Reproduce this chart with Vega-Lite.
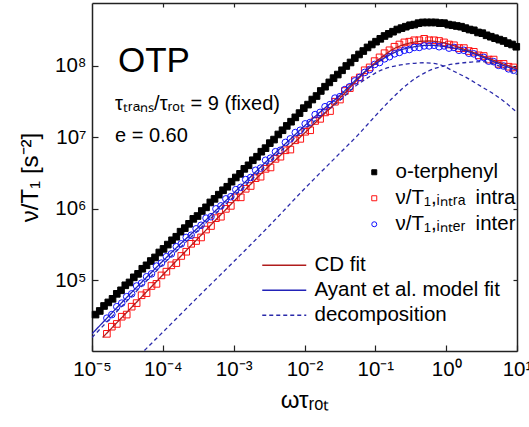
{
  "$schema": "https://vega.github.io/schema/vega-lite/v6.json",
  "width": 425,
  "height": 348,
  "autosize": {"type": "none"},
  "padding": {"left": 92, "top": 3, "right": 12, "bottom": 76},
  "background": "#ffffff",
  "config": {
    "view": {"stroke": null},
    "font": "Liberation Sans",
    "axis": {
      "grid": false, "domainColor": "#222222", "domainWidth": 1.5,
      "tickColor": "#222222", "tickWidth": 1.2,
      "labelFont": "Liberation Sans", "labelFontSize": 20.5, "labelColor": "#000000",
      "titleFont": "Liberation Sans", "titleFontSize": 24, "titleFontWeight": "normal", "titleColor": "#000000",
      "labelOverlap": false, "labelFlush": false
    },
    "legend": {"labelFont": "Liberation Sans", "labelFontSize": 20.5, "labelColor": "#000000", "padding": 0, "labelLimit": 400}
  },
  "datasets": {
    "measured": [
      {"series":"o-terphenyl","omega_tau":1.122e-5,"rate":3.31e4},{"series":"o-terphenyl","omega_tau":1.288e-5,"rate":3.72e4},{"series":"o-terphenyl","omega_tau":1.479e-5,"rate":4.37e4},{"series":"o-terphenyl","omega_tau":1.698e-5,"rate":4.90e4},{"series":"o-terphenyl","omega_tau":1.950e-5,"rate":5.50e4},{"series":"o-terphenyl","omega_tau":2.239e-5,"rate":6.46e4},{"series":"o-terphenyl","omega_tau":2.570e-5,"rate":7.24e4},{"series":"o-terphenyl","omega_tau":2.951e-5,"rate":8.51e4},{"series":"o-terphenyl","omega_tau":3.388e-5,"rate":9.33e4},{"series":"o-terphenyl","omega_tau":3.890e-5,"rate":1.10e5},
      {"series":"o-terphenyl","omega_tau":4.467e-5,"rate":1.23e5},{"series":"o-terphenyl","omega_tau":5.129e-5,"rate":1.45e5},{"series":"o-terphenyl","omega_tau":5.888e-5,"rate":1.62e5},{"series":"o-terphenyl","omega_tau":6.761e-5,"rate":1.86e5},{"series":"o-terphenyl","omega_tau":7.762e-5,"rate":2.09e5},{"series":"o-terphenyl","omega_tau":8.913e-5,"rate":2.45e5},{"series":"o-terphenyl","omega_tau":1.023e-4,"rate":2.75e5},{"series":"o-terphenyl","omega_tau":1.175e-4,"rate":3.16e5},{"series":"o-terphenyl","omega_tau":1.349e-4,"rate":3.63e5},{"series":"o-terphenyl","omega_tau":1.549e-4,"rate":4.07e5},
      {"series":"o-terphenyl","omega_tau":1.778e-4,"rate":4.79e5},{"series":"o-terphenyl","omega_tau":2.042e-4,"rate":5.37e5},{"series":"o-terphenyl","omega_tau":2.344e-4,"rate":6.17e5},{"series":"o-terphenyl","omega_tau":2.692e-4,"rate":7.24e5},{"series":"o-terphenyl","omega_tau":3.090e-4,"rate":7.94e5},{"series":"o-terphenyl","omega_tau":3.548e-4,"rate":9.33e5},{"series":"o-terphenyl","omega_tau":4.074e-4,"rate":1.05e6},{"series":"o-terphenyl","omega_tau":4.677e-4,"rate":1.23e6},{"series":"o-terphenyl","omega_tau":5.370e-4,"rate":1.38e6},{"series":"o-terphenyl","omega_tau":6.166e-4,"rate":1.58e6},
      {"series":"o-terphenyl","omega_tau":7.079e-4,"rate":1.82e6},{"series":"o-terphenyl","omega_tau":8.128e-4,"rate":2.04e6},{"series":"o-terphenyl","omega_tau":9.333e-4,"rate":2.40e6},{"series":"o-terphenyl","omega_tau":1.072e-3,"rate":2.75e6},{"series":"o-terphenyl","omega_tau":1.230e-3,"rate":3.09e6},{"series":"o-terphenyl","omega_tau":1.413e-3,"rate":3.63e6},{"series":"o-terphenyl","omega_tau":1.622e-3,"rate":4.07e6},{"series":"o-terphenyl","omega_tau":1.862e-3,"rate":4.79e6},{"series":"o-terphenyl","omega_tau":2.138e-3,"rate":5.37e6},{"series":"o-terphenyl","omega_tau":2.455e-3,"rate":6.31e6},
      {"series":"o-terphenyl","omega_tau":2.818e-3,"rate":7.08e6},{"series":"o-terphenyl","omega_tau":3.236e-3,"rate":8.32e6},{"series":"o-terphenyl","omega_tau":3.715e-3,"rate":9.33e6},{"series":"o-terphenyl","omega_tau":4.266e-3,"rate":1.10e7},{"series":"o-terphenyl","omega_tau":4.898e-3,"rate":1.26e7},{"series":"o-terphenyl","omega_tau":5.623e-3,"rate":1.45e7},{"series":"o-terphenyl","omega_tau":6.457e-3,"rate":1.66e7},{"series":"o-terphenyl","omega_tau":7.413e-3,"rate":1.91e7},{"series":"o-terphenyl","omega_tau":8.511e-3,"rate":2.19e7},{"series":"o-terphenyl","omega_tau":9.772e-3,"rate":2.57e7},
      {"series":"o-terphenyl","omega_tau":1.122e-2,"rate":2.88e7},{"series":"o-terphenyl","omega_tau":1.288e-2,"rate":3.39e7},{"series":"o-terphenyl","omega_tau":1.479e-2,"rate":3.80e7},{"series":"o-terphenyl","omega_tau":1.698e-2,"rate":4.47e7},{"series":"o-terphenyl","omega_tau":1.950e-2,"rate":5.13e7},{"series":"o-terphenyl","omega_tau":2.239e-2,"rate":5.89e7},{"series":"o-terphenyl","omega_tau":2.570e-2,"rate":6.76e7},{"series":"o-terphenyl","omega_tau":2.951e-2,"rate":7.59e7},{"series":"o-terphenyl","omega_tau":3.388e-2,"rate":8.71e7},{"series":"o-terphenyl","omega_tau":3.890e-2,"rate":1.00e8},
      {"series":"o-terphenyl","omega_tau":4.467e-2,"rate":1.12e8},{"series":"o-terphenyl","omega_tau":5.129e-2,"rate":1.29e8},{"series":"o-terphenyl","omega_tau":5.888e-2,"rate":1.45e8},{"series":"o-terphenyl","omega_tau":6.761e-2,"rate":1.62e8},{"series":"o-terphenyl","omega_tau":7.762e-2,"rate":1.82e8},{"series":"o-terphenyl","omega_tau":8.913e-2,"rate":2.00e8},{"series":"o-terphenyl","omega_tau":0.1023,"rate":2.19e8},{"series":"o-terphenyl","omega_tau":0.1175,"rate":2.40e8},{"series":"o-terphenyl","omega_tau":0.1349,"rate":2.63e8},{"series":"o-terphenyl","omega_tau":0.1549,"rate":2.82e8},
      {"series":"o-terphenyl","omega_tau":0.1778,"rate":3.02e8},{"series":"o-terphenyl","omega_tau":0.2042,"rate":3.24e8},{"series":"o-terphenyl","omega_tau":0.2344,"rate":3.39e8},{"series":"o-terphenyl","omega_tau":0.2692,"rate":3.55e8},{"series":"o-terphenyl","omega_tau":0.3090,"rate":3.72e8},{"series":"o-terphenyl","omega_tau":0.3548,"rate":3.80e8},{"series":"o-terphenyl","omega_tau":0.4074,"rate":3.98e8},{"series":"o-terphenyl","omega_tau":0.4677,"rate":4.07e8},{"series":"o-terphenyl","omega_tau":0.5370,"rate":4.07e8},{"series":"o-terphenyl","omega_tau":0.6166,"rate":4.07e8},
      {"series":"o-terphenyl","omega_tau":0.7079,"rate":4.07e8},{"series":"o-terphenyl","omega_tau":0.8128,"rate":3.98e8},{"series":"o-terphenyl","omega_tau":0.9333,"rate":3.98e8},{"series":"o-terphenyl","omega_tau":1.072,"rate":3.80e8},{"series":"o-terphenyl","omega_tau":1.230,"rate":3.72e8},{"series":"o-terphenyl","omega_tau":1.413,"rate":3.63e8},{"series":"o-terphenyl","omega_tau":1.622,"rate":3.55e8},{"series":"o-terphenyl","omega_tau":1.862,"rate":3.39e8},{"series":"o-terphenyl","omega_tau":2.138,"rate":3.24e8},{"series":"o-terphenyl","omega_tau":2.455,"rate":3.16e8},
      {"series":"o-terphenyl","omega_tau":2.818,"rate":2.95e8},{"series":"o-terphenyl","omega_tau":3.236,"rate":2.88e8},{"series":"o-terphenyl","omega_tau":3.715,"rate":2.69e8},{"series":"o-terphenyl","omega_tau":4.266,"rate":2.57e8},{"series":"o-terphenyl","omega_tau":4.898,"rate":2.45e8},{"series":"o-terphenyl","omega_tau":5.623,"rate":2.34e8},{"series":"o-terphenyl","omega_tau":6.457,"rate":2.24e8},{"series":"o-terphenyl","omega_tau":7.413,"rate":2.09e8},{"series":"o-terphenyl","omega_tau":8.511,"rate":2.00e8},{"series":"o-terphenyl","omega_tau":9.772,"rate":1.86e8},

      {"series":"intra","omega_tau":1.622e-5,"rate":1.78e4},{"series":"intra","omega_tau":1.905e-5,"rate":2.24e4},{"series":"intra","omega_tau":2.239e-5,"rate":2.45e4},{"series":"intra","omega_tau":2.630e-5,"rate":3.09e4},{"series":"intra","omega_tau":3.090e-5,"rate":3.31e4},{"series":"intra","omega_tau":3.631e-5,"rate":4.27e4},{"series":"intra","omega_tau":4.266e-5,"rate":4.79e4},{"series":"intra","omega_tau":5.012e-5,"rate":6.17e4},{"series":"intra","omega_tau":5.888e-5,"rate":6.61e4},{"series":"intra","omega_tau":6.918e-5,"rate":8.32e4},
      {"series":"intra","omega_tau":8.128e-5,"rate":8.91e4},{"series":"intra","omega_tau":9.550e-5,"rate":1.17e5},{"series":"intra","omega_tau":1.122e-4,"rate":1.32e5},{"series":"intra","omega_tau":1.318e-4,"rate":1.62e5},{"series":"intra","omega_tau":1.549e-4,"rate":1.74e5},{"series":"intra","omega_tau":1.820e-4,"rate":2.19e5},{"series":"intra","omega_tau":2.138e-4,"rate":2.51e5},{"series":"intra","omega_tau":2.512e-4,"rate":3.24e5},{"series":"intra","omega_tau":2.951e-4,"rate":3.55e5},{"series":"intra","omega_tau":3.467e-4,"rate":3.98e5},
      {"series":"intra","omega_tau":4.074e-4,"rate":5.13e5},{"series":"intra","omega_tau":4.786e-4,"rate":5.75e5},{"series":"intra","omega_tau":5.623e-4,"rate":7.41e5},{"series":"intra","omega_tau":6.607e-4,"rate":7.76e5},{"series":"intra","omega_tau":7.762e-4,"rate":1.00e6},{"series":"intra","omega_tau":9.120e-4,"rate":1.10e6},{"series":"intra","omega_tau":1.072e-3,"rate":1.45e6},{"series":"intra","omega_tau":1.259e-3,"rate":1.45e6},{"series":"intra","omega_tau":1.479e-3,"rate":1.91e6},{"series":"intra","omega_tau":1.738e-3,"rate":2.09e6},
      {"series":"intra","omega_tau":2.042e-3,"rate":2.69e6},{"series":"intra","omega_tau":2.399e-3,"rate":2.82e6},{"series":"intra","omega_tau":2.818e-3,"rate":3.63e6},{"series":"intra","omega_tau":3.311e-3,"rate":3.80e6},{"series":"intra","omega_tau":3.890e-3,"rate":5.01e6},{"series":"intra","omega_tau":4.571e-3,"rate":5.37e6},{"series":"intra","omega_tau":5.370e-3,"rate":6.61e6},{"series":"intra","omega_tau":6.310e-3,"rate":6.76e6},{"series":"intra","omega_tau":7.413e-3,"rate":9.12e6},{"series":"intra","omega_tau":8.710e-3,"rate":9.55e6},
      {"series":"intra","omega_tau":1.023e-2,"rate":1.20e7},{"series":"intra","omega_tau":1.202e-2,"rate":1.26e7},{"series":"intra","omega_tau":1.413e-2,"rate":1.70e7},{"series":"intra","omega_tau":1.660e-2,"rate":1.82e7},{"series":"intra","omega_tau":1.950e-2,"rate":2.24e7},{"series":"intra","omega_tau":2.291e-2,"rate":2.34e7},{"series":"intra","omega_tau":2.692e-2,"rate":3.16e7},{"series":"intra","omega_tau":3.162e-2,"rate":3.39e7},{"series":"intra","omega_tau":3.715e-2,"rate":4.47e7},{"series":"intra","omega_tau":4.365e-2,"rate":4.90e7},
      {"series":"intra","omega_tau":5.129e-2,"rate":6.31e7},{"series":"intra","omega_tau":6.026e-2,"rate":6.92e7},{"series":"intra","omega_tau":7.079e-2,"rate":8.71e7},{"series":"intra","omega_tau":8.318e-2,"rate":9.55e7},{"series":"intra","omega_tau":9.772e-2,"rate":1.17e8},{"series":"intra","omega_tau":0.1148,"rate":1.32e8},{"series":"intra","omega_tau":0.1349,"rate":1.51e8},{"series":"intra","omega_tau":0.1585,"rate":1.66e8},{"series":"intra","omega_tau":0.1862,"rate":1.86e8},{"series":"intra","omega_tau":0.2188,"rate":2.00e8},
      {"series":"intra","omega_tau":0.2570,"rate":2.14e8},{"series":"intra","omega_tau":0.3020,"rate":2.19e8},{"series":"intra","omega_tau":0.3548,"rate":2.29e8},{"series":"intra","omega_tau":0.4169,"rate":2.29e8},{"series":"intra","omega_tau":0.4898,"rate":2.40e8},{"series":"intra","omega_tau":0.5754,"rate":2.29e8},{"series":"intra","omega_tau":0.6761,"rate":2.29e8},{"series":"intra","omega_tau":0.7943,"rate":2.24e8},{"series":"intra","omega_tau":0.9333,"rate":2.14e8},{"series":"intra","omega_tau":1.096,"rate":2.00e8},
      {"series":"intra","omega_tau":1.288,"rate":1.95e8},{"series":"intra","omega_tau":1.514,"rate":1.78e8},{"series":"intra","omega_tau":1.778,"rate":1.78e8},{"series":"intra","omega_tau":2.089,"rate":1.62e8},{"series":"intra","omega_tau":2.455,"rate":1.58e8},{"series":"intra","omega_tau":2.884,"rate":1.41e8},{"series":"intra","omega_tau":3.388,"rate":1.38e8},{"series":"intra","omega_tau":3.981,"rate":1.23e8},{"series":"intra","omega_tau":4.677,"rate":1.23e8},{"series":"intra","omega_tau":5.495,"rate":1.07e8},
      {"series":"intra","omega_tau":6.457,"rate":1.07e8},{"series":"intra","omega_tau":7.586,"rate":9.77e7},{"series":"intra","omega_tau":8.913,"rate":9.55e7},

      {"series":"inter","omega_tau":1.622e-5,"rate":2.95e4},{"series":"inter","omega_tau":1.905e-5,"rate":3.31e4},{"series":"inter","omega_tau":2.239e-5,"rate":4.27e4},{"series":"inter","omega_tau":2.630e-5,"rate":4.79e4},{"series":"inter","omega_tau":3.090e-5,"rate":5.89e4},{"series":"inter","omega_tau":3.631e-5,"rate":6.46e4},{"series":"inter","omega_tau":4.266e-5,"rate":8.32e4},{"series":"inter","omega_tau":5.012e-5,"rate":9.12e4},{"series":"inter","omega_tau":5.888e-5,"rate":1.12e5},{"series":"inter","omega_tau":6.918e-5,"rate":1.23e5},
      {"series":"inter","omega_tau":8.128e-5,"rate":1.58e5},{"series":"inter","omega_tau":9.550e-5,"rate":1.74e5},{"series":"inter","omega_tau":1.122e-4,"rate":2.14e5},{"series":"inter","omega_tau":1.318e-4,"rate":2.34e5},{"series":"inter","omega_tau":1.549e-4,"rate":2.95e5},{"series":"inter","omega_tau":1.820e-4,"rate":3.24e5},{"series":"inter","omega_tau":2.138e-4,"rate":3.98e5},{"series":"inter","omega_tau":2.512e-4,"rate":4.27e5},{"series":"inter","omega_tau":2.951e-4,"rate":5.25e5},{"series":"inter","omega_tau":3.467e-4,"rate":5.89e5},
      {"series":"inter","omega_tau":4.074e-4,"rate":7.41e5},{"series":"inter","omega_tau":4.786e-4,"rate":7.76e5},{"series":"inter","omega_tau":5.623e-4,"rate":1.00e6},{"series":"inter","omega_tau":6.607e-4,"rate":1.10e6},{"series":"inter","omega_tau":7.762e-4,"rate":1.38e6},{"series":"inter","omega_tau":9.120e-4,"rate":1.48e6},{"series":"inter","omega_tau":1.072e-3,"rate":1.86e6},{"series":"inter","omega_tau":1.259e-3,"rate":2.00e6},{"series":"inter","omega_tau":1.479e-3,"rate":2.57e6},{"series":"inter","omega_tau":1.738e-3,"rate":2.75e6},
      {"series":"inter","omega_tau":2.042e-3,"rate":3.47e6},{"series":"inter","omega_tau":2.399e-3,"rate":3.72e6},{"series":"inter","omega_tau":2.818e-3,"rate":4.79e6},{"series":"inter","omega_tau":3.311e-3,"rate":5.13e6},{"series":"inter","omega_tau":3.890e-3,"rate":6.31e6},{"series":"inter","omega_tau":4.571e-3,"rate":6.61e6},{"series":"inter","omega_tau":5.370e-3,"rate":8.51e6},{"series":"inter","omega_tau":6.310e-3,"rate":9.55e6},{"series":"inter","omega_tau":7.413e-3,"rate":1.17e7},{"series":"inter","omega_tau":8.710e-3,"rate":1.26e7},
      {"series":"inter","omega_tau":1.023e-2,"rate":1.55e7},{"series":"inter","omega_tau":1.202e-2,"rate":1.62e7},{"series":"inter","omega_tau":1.413e-2,"rate":2.09e7},{"series":"inter","omega_tau":1.660e-2,"rate":2.24e7},{"series":"inter","omega_tau":1.950e-2,"rate":2.69e7},{"series":"inter","omega_tau":2.291e-2,"rate":2.88e7},{"series":"inter","omega_tau":2.692e-2,"rate":3.55e7},{"series":"inter","omega_tau":3.162e-2,"rate":3.72e7},{"series":"inter","omega_tau":3.715e-2,"rate":4.68e7},{"series":"inter","omega_tau":4.365e-2,"rate":5.13e7},
      {"series":"inter","omega_tau":5.129e-2,"rate":6.17e7},{"series":"inter","omega_tau":6.026e-2,"rate":6.92e7},{"series":"inter","omega_tau":7.079e-2,"rate":8.13e7},{"series":"inter","omega_tau":8.318e-2,"rate":8.91e7},{"series":"inter","omega_tau":9.772e-2,"rate":1.05e8},{"series":"inter","omega_tau":0.1148,"rate":1.12e8},{"series":"inter","omega_tau":0.1349,"rate":1.26e8},{"series":"inter","omega_tau":0.1585,"rate":1.35e8},{"series":"inter","omega_tau":0.1862,"rate":1.48e8},{"series":"inter","omega_tau":0.2188,"rate":1.55e8},
      {"series":"inter","omega_tau":0.2570,"rate":1.66e8},{"series":"inter","omega_tau":0.3020,"rate":1.70e8},{"series":"inter","omega_tau":0.3548,"rate":1.82e8},{"series":"inter","omega_tau":0.4169,"rate":1.82e8},{"series":"inter","omega_tau":0.4898,"rate":1.91e8},{"series":"inter","omega_tau":0.5754,"rate":1.91e8},{"series":"inter","omega_tau":0.6761,"rate":1.95e8},{"series":"inter","omega_tau":0.7943,"rate":1.86e8},{"series":"inter","omega_tau":0.9333,"rate":1.91e8},{"series":"inter","omega_tau":1.096,"rate":1.78e8},
      {"series":"inter","omega_tau":1.288,"rate":1.82e8},{"series":"inter","omega_tau":1.514,"rate":1.66e8},{"series":"inter","omega_tau":1.778,"rate":1.66e8},{"series":"inter","omega_tau":2.089,"rate":1.51e8},{"series":"inter","omega_tau":2.455,"rate":1.48e8},{"series":"inter","omega_tau":2.884,"rate":1.32e8},{"series":"inter","omega_tau":3.388,"rate":1.32e8},{"series":"inter","omega_tau":3.981,"rate":1.17e8},{"series":"inter","omega_tau":4.677,"rate":1.15e8},{"series":"inter","omega_tau":5.495,"rate":1.02e8},
      {"series":"inter","omega_tau":6.457,"rate":1.00e8},{"series":"inter","omega_tau":7.586,"rate":9.12e7},{"series":"inter","omega_tau":8.913,"rate":8.71e7}
    ],
    "fits": [
      {"curve":"decomposition","part":"A","omega_tau":1e-5,"rate":1.58e4},{"curve":"decomposition","part":"A","omega_tau":1e-4,"rate":1.66e5},{"curve":"decomposition","part":"A","omega_tau":1e-3,"rate":1.48e6},{"curve":"decomposition","part":"A","omega_tau":1e-2,"rate":1.29e7},{"curve":"decomposition","part":"A","omega_tau":3.162e-2,"rate":3.31e7},{"curve":"decomposition","part":"A","omega_tau":5.623e-2,"rate":5.50e7},{"curve":"decomposition","part":"A","omega_tau":7.943e-2,"rate":6.92e7},{"curve":"decomposition","part":"A","omega_tau":0.1259,"rate":8.91e7},{"curve":"decomposition","part":"A","omega_tau":0.1995,"rate":1.01e8},{"curve":"decomposition","part":"A","omega_tau":0.3162,"rate":1.08e8},{"curve":"decomposition","part":"A","omega_tau":0.5012,"rate":1.11e8},{"curve":"decomposition","part":"A","omega_tau":0.7943,"rate":1.05e8},{"curve":"decomposition","part":"A","omega_tau":1.259,"rate":8.51e7},{"curve":"decomposition","part":"A","omega_tau":1.995,"rate":6.76e7},{"curve":"decomposition","part":"A","omega_tau":3.162,"rate":5.13e7},{"curve":"decomposition","part":"A","omega_tau":5.623,"rate":3.59e7},{"curve":"decomposition","part":"A","omega_tau":10,"rate":2.24e7},
      {"curve":"decomposition","part":"B","omega_tau":3.981e-5,"rate":7.59e3},{"curve":"decomposition","part":"B","omega_tau":1e-4,"rate":1.88e4},{"curve":"decomposition","part":"B","omega_tau":3.162e-4,"rate":5.89e4},{"curve":"decomposition","part":"B","omega_tau":1e-3,"rate":1.82e5},{"curve":"decomposition","part":"B","omega_tau":3.162e-3,"rate":5.75e5},{"curve":"decomposition","part":"B","omega_tau":1e-2,"rate":1.91e6},{"curve":"decomposition","part":"B","omega_tau":3.162e-2,"rate":6.03e6},{"curve":"decomposition","part":"B","omega_tau":5.623e-2,"rate":1.07e7},{"curve":"decomposition","part":"B","omega_tau":0.1,"rate":2.00e7},{"curve":"decomposition","part":"B","omega_tau":0.1778,"rate":3.63e7},{"curve":"decomposition","part":"B","omega_tau":0.3162,"rate":6.03e7},{"curve":"decomposition","part":"B","omega_tau":0.5623,"rate":8.51e7},{"curve":"decomposition","part":"B","omega_tau":1.0,"rate":1.02e8},{"curve":"decomposition","part":"B","omega_tau":1.778,"rate":1.11e8},{"curve":"decomposition","part":"B","omega_tau":3.162,"rate":1.15e8},{"curve":"decomposition","part":"B","omega_tau":5.623,"rate":1.00e8},{"curve":"decomposition","part":"B","omega_tau":10,"rate":7.59e7},
      {"curve":"CD fit","part":"CD","omega_tau":1.413e-5,"rate":1.58e4},{"curve":"CD fit","part":"CD","omega_tau":3.162e-5,"rate":3.63e4},{"curve":"CD fit","part":"CD","omega_tau":1e-4,"rate":1.19e5},{"curve":"CD fit","part":"CD","omega_tau":3.162e-4,"rate":3.89e5},{"curve":"CD fit","part":"CD","omega_tau":1e-3,"rate":1.27e6},{"curve":"CD fit","part":"CD","omega_tau":3.162e-3,"rate":3.98e6},{"curve":"CD fit","part":"CD","omega_tau":1e-2,"rate":1.15e7},{"curve":"CD fit","part":"CD","omega_tau":3.162e-2,"rate":3.55e7},{"curve":"CD fit","part":"CD","omega_tau":5.623e-2,"rate":6.46e7},{"curve":"CD fit","part":"CD","omega_tau":0.1,"rate":1.12e8},{"curve":"CD fit","part":"CD","omega_tau":0.1334,"rate":1.41e8},{"curve":"CD fit","part":"CD","omega_tau":0.1778,"rate":1.72e8},{"curve":"CD fit","part":"CD","omega_tau":0.2371,"rate":1.95e8},{"curve":"CD fit","part":"CD","omega_tau":0.3162,"rate":2.11e8},{"curve":"CD fit","part":"CD","omega_tau":0.4217,"rate":2.21e8},{"curve":"CD fit","part":"CD","omega_tau":0.5623,"rate":2.24e8},{"curve":"CD fit","part":"CD","omega_tau":0.7499,"rate":2.19e8},{"curve":"CD fit","part":"CD","omega_tau":1.0,"rate":2.07e8},{"curve":"CD fit","part":"CD","omega_tau":1.778,"rate":1.72e8},{"curve":"CD fit","part":"CD","omega_tau":3.162,"rate":1.40e8},{"curve":"CD fit","part":"CD","omega_tau":5.623,"rate":1.12e8},{"curve":"CD fit","part":"CD","omega_tau":10,"rate":9.12e7},
      {"curve":"Ayant et al. model fit","part":"Ayant","omega_tau":1e-5,"rate":1.78e4},{"curve":"Ayant et al. model fit","part":"Ayant","omega_tau":1.778e-5,"rate":3.24e4},{"curve":"Ayant et al. model fit","part":"Ayant","omega_tau":3.162e-5,"rate":5.89e4},{"curve":"Ayant et al. model fit","part":"Ayant","omega_tau":5.623e-5,"rate":1.05e5},{"curve":"Ayant et al. model fit","part":"Ayant","omega_tau":1e-4,"rate":1.86e5},{"curve":"Ayant et al. model fit","part":"Ayant","omega_tau":1.778e-4,"rate":3.24e5},{"curve":"Ayant et al. model fit","part":"Ayant","omega_tau":3.162e-4,"rate":5.50e5},{"curve":"Ayant et al. model fit","part":"Ayant","omega_tau":5.623e-4,"rate":9.55e5},{"curve":"Ayant et al. model fit","part":"Ayant","omega_tau":1e-3,"rate":1.66e6},{"curve":"Ayant et al. model fit","part":"Ayant","omega_tau":1.778e-3,"rate":2.88e6},{"curve":"Ayant et al. model fit","part":"Ayant","omega_tau":3.162e-3,"rate":5.01e6},{"curve":"Ayant et al. model fit","part":"Ayant","omega_tau":5.623e-3,"rate":8.51e6},{"curve":"Ayant et al. model fit","part":"Ayant","omega_tau":1e-2,"rate":1.45e7},{"curve":"Ayant et al. model fit","part":"Ayant","omega_tau":1.778e-2,"rate":2.40e7},{"curve":"Ayant et al. model fit","part":"Ayant","omega_tau":3.162e-2,"rate":3.89e7},{"curve":"Ayant et al. model fit","part":"Ayant","omega_tau":5.623e-2,"rate":6.76e7},{"curve":"Ayant et al. model fit","part":"Ayant","omega_tau":7.499e-2,"rate":8.71e7},{"curve":"Ayant et al. model fit","part":"Ayant","omega_tau":0.1,"rate":1.07e8},{"curve":"Ayant et al. model fit","part":"Ayant","omega_tau":0.1334,"rate":1.29e8},{"curve":"Ayant et al. model fit","part":"Ayant","omega_tau":0.1778,"rate":1.51e8},{"curve":"Ayant et al. model fit","part":"Ayant","omega_tau":0.2371,"rate":1.70e8},{"curve":"Ayant et al. model fit","part":"Ayant","omega_tau":0.3162,"rate":1.82e8},{"curve":"Ayant et al. model fit","part":"Ayant","omega_tau":0.5623,"rate":1.95e8},{"curve":"Ayant et al. model fit","part":"Ayant","omega_tau":1.0,"rate":1.86e8},{"curve":"Ayant et al. model fit","part":"Ayant","omega_tau":1.778,"rate":1.66e8},{"curve":"Ayant et al. model fit","part":"Ayant","omega_tau":3.162,"rate":1.35e8},{"curve":"Ayant et al. model fit","part":"Ayant","omega_tau":5.623,"rate":1.07e8},{"curve":"Ayant et al. model fit","part":"Ayant","omega_tau":10,"rate":8.71e7}
    ]
  },
  "layer": [
    {
      "data": {"name": "measured"},
      "mark": {"type": "point", "size": 44, "strokeWidth": 1, "opacity": 1},
      "encoding": {
        "x": {"field": "omega_tau", "type": "quantitative", "scale": {"type": "log", "domain": [1e-5, 10], "nice": false},
              "axis": {"orient": "bottom", "values": [1e-5, 1e-4, 1e-3, 1e-2, 1e-1, 1, 10], "tickSize": -6, "labelPadding": 14, "titlePadding": 9,
                       "labelExpr": "'10' + ['⁻⁵','⁻⁴','⁻³','⁻²','⁻¹','⁰','¹'][round(log(datum.value)/LN10)+5]", "title": "ωτᵣₒₜ"}},
        "y": {"field": "rate", "type": "quantitative", "scale": {"type": "log", "domain": [10233, 7.62e8], "nice": false},
              "axis": {"orient": "left", "values": [1e5, 1e6, 1e7, 1e8], "tickSize": -6, "labelPadding": 12, "titlePadding": 12,
                       "labelExpr": "'10' + ['⁴','⁵','⁶','⁷','⁸'][round(log(datum.value)/LN10)-4]", "title": "ν/T₁ [s⁻²]"}},
        "shape": {"field": "series", "type": "nominal", "scale": {"domain": ["o-terphenyl", "intra", "inter"], "range": ["square", "square", "circle"]},
                  "legend": {"title": null, "orient": "none", "legendX": 272, "legendY": 159, "symbolSize": 25, "labelOffset": 11, "rowPadding": 5, "symbolStrokeWidth": 1,
                             "labelExpr": "datum.label == 'intra' ? 'ν/T₁,ᵢₙₜᵣₐ\u2002intra' : datum.label == 'inter' ? 'ν/T₁,ᵢₙₜₑᵣ\u2002inter' : datum.label"}},
        "stroke": {"field": "series", "type": "nominal", "scale": {"domain": ["o-terphenyl", "intra", "inter"], "range": ["#000000", "#ff1010", "#1010ff"]},
                  "legend": {"title": null, "orient": "none", "legendX": 272, "legendY": 159, "symbolSize": 25, "labelOffset": 11, "rowPadding": 5, "symbolStrokeWidth": 1,
                             "labelExpr": "datum.label == 'intra' ? 'ν/T₁,ᵢₙₜᵣₐ\u2002intra' : datum.label == 'inter' ? 'ν/T₁,ᵢₙₜₑᵣ\u2002inter' : datum.label"}},
        "fill": {"field": "series", "type": "nominal", "scale": {"domain": ["o-terphenyl", "intra", "inter"], "range": ["#000000", "transparent", "transparent"]},
                  "legend": {"title": null, "orient": "none", "legendX": 272, "legendY": 159, "symbolSize": 25, "labelOffset": 11, "rowPadding": 5, "symbolStrokeWidth": 1,
                             "labelExpr": "datum.label == 'intra' ? 'ν/T₁,ᵢₙₜᵣₐ\u2002intra' : datum.label == 'inter' ? 'ν/T₁,ᵢₙₜₑᵣ\u2002inter' : datum.label"}}
      }
    },
    {
      "data": {"name": "fits"},
      "mark": {"type": "line", "strokeWidth": 1.3, "clip": true, "interpolate": "monotone"},
      "encoding": {
        "x": {"field": "omega_tau", "type": "quantitative", "scale": {"type": "log", "domain": [1e-5, 10], "nice": false},
              "axis": {"orient": "top", "values": [1e-4, 1e-3, 1e-2, 1e-1, 1], "tickSize": -4, "labels": false, "title": null}},
        "y": {"field": "rate", "type": "quantitative", "scale": {"type": "log", "domain": [10233, 7.62e8], "nice": false},
              "axis": {"orient": "right", "values": [1e5, 1e6, 1e7, 1e8], "tickSize": -4, "labels": false, "title": null}},
        "detail": {"field": "part"},
        "color": {"field": "curve", "type": "nominal", "scale": {"domain": ["CD fit", "Ayant et al. model fit", "decomposition"], "range": ["#b01c1c", "#2222b8", "#2a2aaa"]},
                  "legend": {"title": null, "orient": "none", "legendX": 182, "legendY": 252, "symbolType": "M-4,0L4,0", "symbolSize": 121, "symbolStrokeWidth": 1.5, "labelOffset": 20, "rowPadding": 4}},
        "strokeDash": {"field": "curve", "type": "nominal", "scale": {"domain": ["CD fit", "Ayant et al. model fit", "decomposition"], "range": [[1, 0], [1, 0], [4, 3]]},
                  "legend": {"title": null, "orient": "none", "legendX": 182, "legendY": 252, "symbolType": "M-4,0L4,0", "symbolSize": 121, "symbolStrokeWidth": 1.5, "labelOffset": 20, "rowPadding": 4}}
      }
    },
    {
      "data": {"values": [{"omega_tau": 2.33e-5, "rate": 8.32e7, "note": "OTP"}]},
      "mark": {"type": "text", "align": "left", "baseline": "alphabetic", "fontSize": 35, "font": "Liberation Sans", "color": "#000000"},
      "encoding": {
        "x": {"field": "omega_tau", "type": "quantitative", "scale": {"type": "log", "domain": [1e-5, 10], "nice": false}, "axis": null},
        "y": {"field": "rate", "type": "quantitative", "scale": {"type": "log", "domain": [10233, 7.62e8], "nice": false}, "axis": null},
        "text": {"field": "note"}
      }
    },
    {
      "data": {"values": [{"omega_tau": 2.11e-5, "rate": 2.42e7, "note": "τₜᵣₐₙₛ/τᵣₒₜ = 9 (fixed)"}, {"omega_tau": 2.11e-5, "rate": 8.71e6, "note": "e = 0.60"}]},
      "mark": {"type": "text", "align": "left", "baseline": "alphabetic", "fontSize": 20, "font": "Liberation Sans", "color": "#000000"},
      "encoding": {
        "x": {"field": "omega_tau", "type": "quantitative", "scale": {"type": "log", "domain": [1e-5, 10], "nice": false}, "axis": null},
        "y": {"field": "rate", "type": "quantitative", "scale": {"type": "log", "domain": [10233, 7.62e8], "nice": false}, "axis": null},
        "text": {"field": "note"}
      }
    }
  ],
  "resolve": {"axis": {"x": "independent", "y": "independent"}}
}
